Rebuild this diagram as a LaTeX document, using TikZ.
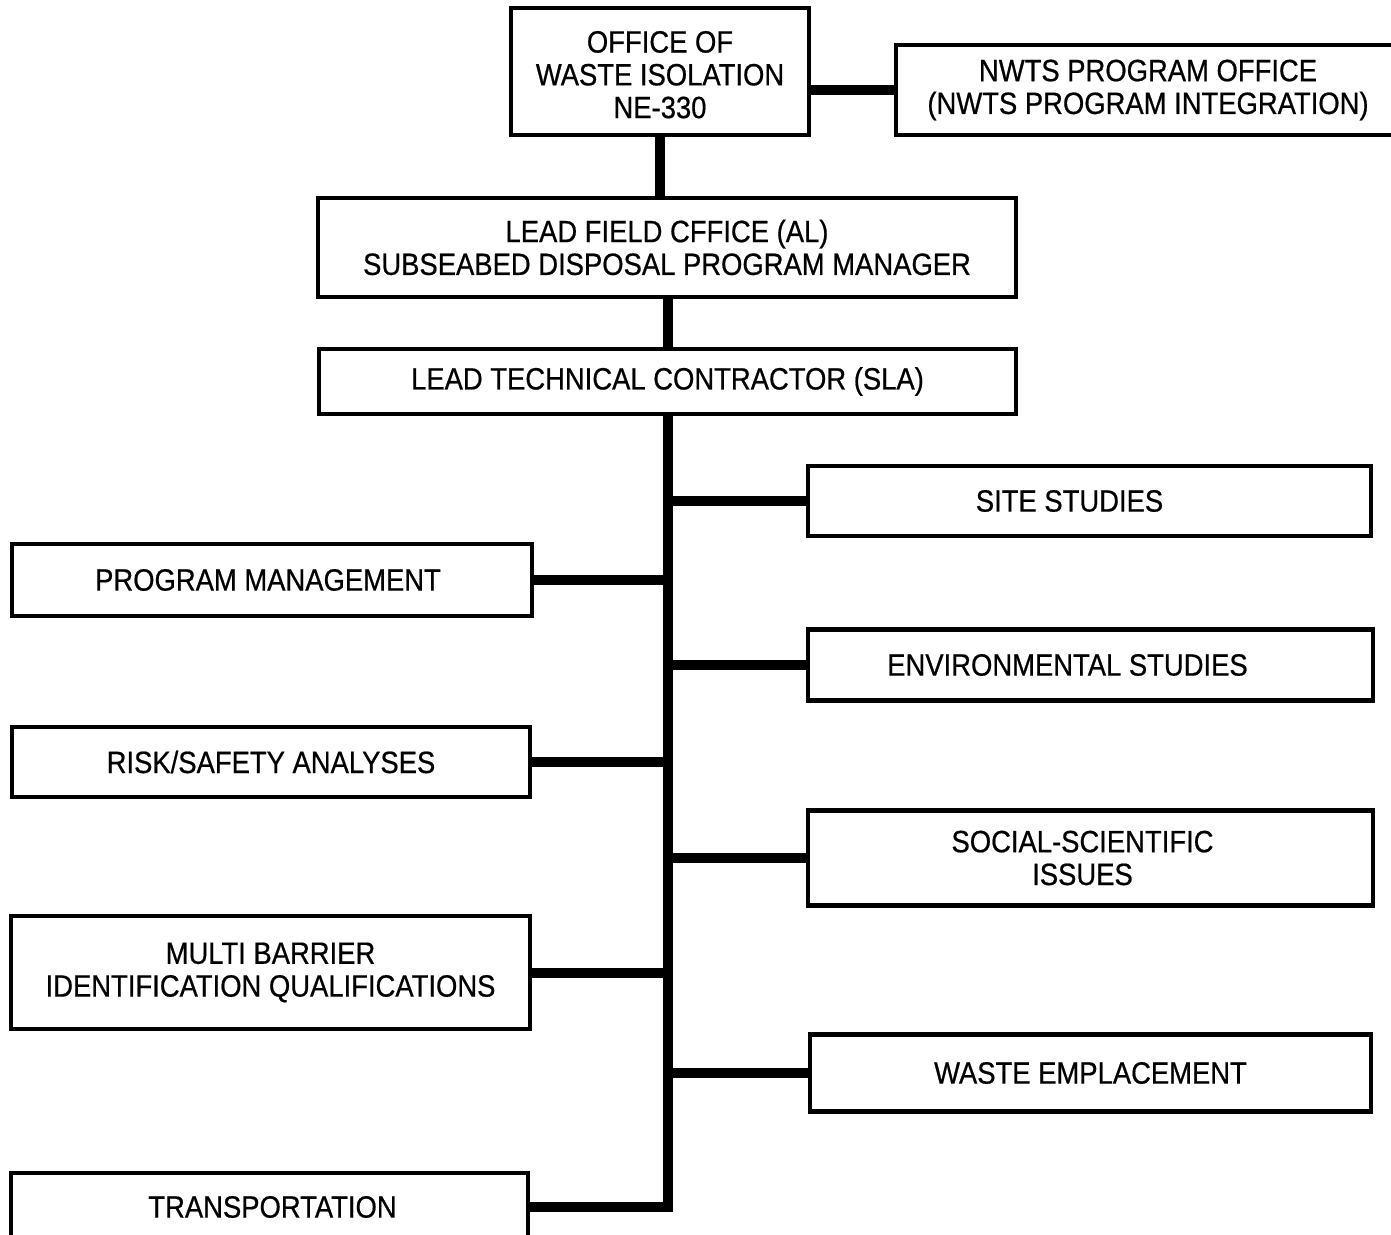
\documentclass[tikz,border=0pt]{standalone}
\usepackage{fontspec}
\setmainfont{Liberation Sans}[FakeStretch=0.89,FakeBold=0.6]
\begin{document}
\begin{tikzpicture}[x=0.5pt,y=-0.5pt,
  box/.style={draw=black,line width=2.2pt,fill=white,inner sep=0pt,align=center,
    font=\fontsize{15.4}{16.4}\selectfont},
  conn/.style={line width=5pt,line join=miter,line cap=butt}]
\useasboundingbox[fill=white] (0,0) rectangle (1391,1235);
% top
\node[box,minimum width=298*0.5pt,minimum height=127*0.5pt] (office) at (660,71.5)
  {\rule{0pt}{14pt}OFFICE OF\\WASTE ISOLATION\\NE-330};
\node[box,minimum width=504*0.5pt,minimum height=90*0.5pt] (nwts) at (1148,90)
  {NWTS PROGRAM OFFICE\\(NWTS PROGRAM INTEGRATION)};
\node[box,minimum width=698*0.5pt,minimum height=99*0.5pt] (field) at (667,247.5)
  {LEAD FIELD CFFICE (AL)\\SUBSEABED DISPOSAL PROGRAM MANAGER};
\node[box,minimum width=697*0.5pt,minimum height=65*0.5pt] (tech) at (667.5,381.5)
  {LEAD TECHNICAL CONTRACTOR (SLA)};
% right column
\node[box,minimum width=563*0.5pt,minimum height=70*0.5pt] (site) at (1089.5,501)
  {SITE STUDIES\hspace*{20pt}};
\node[box,minimum width=565*0.5pt,minimum height=71*0.5pt] (env) at (1090.5,665)
  {ENVIRONMENTAL STUDIES\hspace*{23pt}};
\node[box,minimum width=565*0.5pt,minimum height=95*0.5pt] (social) at (1090.5,858)
  {SOCIAL-SCIENTIFIC\hspace*{8pt}\\ISSUES\hspace*{8pt}};
\node[box,minimum width=561*0.5pt,minimum height=77*0.5pt] (waste) at (1090.5,1073)
  {WASTE EMPLACEMENT};
% left column
\node[box,minimum width=520*0.5pt,minimum height=72*0.5pt] (prog) at (272,580)
  {PROGRAM MANAGEMENT\hspace*{4pt}};
\node[box,minimum width=518*0.5pt,minimum height=70*0.5pt] (risk) at (271,762)
  {RISK/SAFETY ANALYSES};
\node[box,minimum width=519*0.5pt,minimum height=113*0.5pt] (multi) at (270.5,972.5)
  {MULTI BARRIER\\IDENTIFICATION QUALIFICATIONS};
\node[box,minimum width=517*0.5pt,minimum height=68*0.5pt] (trans) at (269.5,1207)
  {\hspace*{3pt}TRANSPORTATION};
% connectors
\draw[conn] (nwts.west -| office.east) -- (nwts.west);
\draw[conn] (office.south) -- (office.south |- field.north);
\draw[conn] (field.south -| tech.north) -- (tech.north);
\draw[conn] (tech.south) |- (trans.east);
\draw[conn] (site.west -| tech.south) -- (site.west);
\draw[conn] (env.west -| tech.south) -- (env.west);
\draw[conn] (social.west -| tech.south) -- (social.west);
\draw[conn] (waste.west -| tech.south) -- (waste.west);
\draw[conn] (prog.east) -- (prog.east -| tech.south);
\draw[conn] (risk.east) -- (risk.east -| tech.south);
\draw[conn] (multi.east) -- (multi.east -| tech.south);
\end{tikzpicture}
\end{document}
